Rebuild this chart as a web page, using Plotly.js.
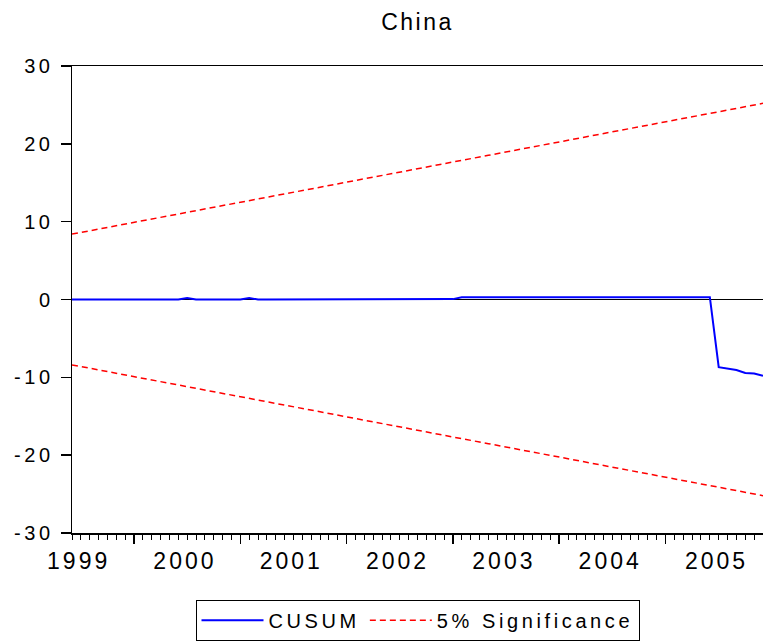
<!DOCTYPE html>
<html>
<head>
<meta charset="utf-8">
<script src="https://cdn.plot.ly/plotly-3.0.1.min.js"></script>
<style>
html,body{margin:0;padding:0;background:#fff;}
#chart{width:763px;height:643px;}
.xtick text{letter-spacing:3px;}
.ytick text{letter-spacing:3.5px;}
.gtitle{letter-spacing:2.5px;}
.legendtext{letter-spacing:3.6px;}
</style>
</head>
<body>
<div id="chart"></div>
<script>
// Monthly observations 1999M01 .. 2005M07 (79 points)
const years = ['1999','2000','2001','2002','2003','2004','2005'];

const cusum = [
  0,0,0,0,0,0,0,0,0,0,0,0,0,0.2,0,0,0,0,0,0,
  0.2,0,0,0,0,0,0,0,0,0,0,0,0,0,0,0,0,0,0,0,
  0,0,0,0.05,0.3,0.3,0.3,0.3,0.3,0.3,0.3,0.3,0.3,0.3,0.3,0.3,0.3,0.3,0.3,0.3,
  0.3,0.3,0.3,0.3,0.3,0.3,0.3,0.3,0.3,0.3,0.3,0.3,0.3,-8.7,-8.9,-9.05,-9.45,-9.5,-9.8
];

const upper5 = [
  8.40,8.62,8.83,9.05,9.26,9.48,9.69,9.91,10.12,10.34,
  10.55,10.77,10.98,11.20,11.42,11.63,11.85,12.06,12.28,12.49,
  12.71,12.92,13.14,13.35,13.57,13.78,14.00,14.22,14.43,14.65,
  14.86,15.08,15.29,15.51,15.72,15.94,16.15,16.37,16.58,16.80,
  17.02,17.23,17.45,17.66,17.88,18.09,18.31,18.52,18.74,18.95,
  19.17,19.38,19.60,19.82,20.03,20.25,20.46,20.68,20.89,21.11,
  21.32,21.54,21.75,21.97,22.18,22.40,22.62,22.83,23.05,23.26,
  23.48,23.69,23.91,24.12,24.34,24.55,24.77,24.98,25.20
];

const lower5 = [
  -8.40,-8.62,-8.83,-9.05,-9.26,-9.48,-9.69,-9.91,-10.12,-10.34,
  -10.55,-10.77,-10.98,-11.20,-11.42,-11.63,-11.85,-12.06,-12.28,-12.49,
  -12.71,-12.92,-13.14,-13.35,-13.57,-13.78,-14.00,-14.22,-14.43,-14.65,
  -14.86,-15.08,-15.29,-15.51,-15.72,-15.94,-16.15,-16.37,-16.58,-16.80,
  -17.02,-17.23,-17.45,-17.66,-17.88,-18.09,-18.31,-18.52,-18.74,-18.95,
  -19.17,-19.38,-19.60,-19.82,-20.03,-20.25,-20.46,-20.68,-20.89,-21.11,
  -21.32,-21.54,-21.75,-21.97,-22.18,-22.40,-22.62,-22.83,-23.05,-23.26,
  -23.48,-23.69,-23.91,-24.12,-24.34,-24.55,-24.77,-24.98,-25.20
];

const yTicks = [-30,-20,-10,0,10,20,30];
const yTickText = ['-30','-20','-10','0','10','20','30'];

const x = cusum.map((_, i) => i);
const nObs = cusum.length - 1;
const labelOffset = 0.75;   // year labels sit just after the first month
const yearIdx = years.map((_, j) => j * 12 + labelOffset);
const majorIdx = years.map((_, j) => j * 12 + 7).filter(v => v <= nObs);

const FONT = 'Liberation Sans, Arial, sans-serif';

const traces = [
  {x: x, y: upper5, name: '5% Significance', type: 'scatter', mode: 'lines', legendrank: 2,
   line: {color: '#FF0000', width: 1.5, dash: '6px,4px'}, xaxis: 'x', yaxis: 'y'},
  {x: x, y: lower5, name: '5% Significance', type: 'scatter', mode: 'lines', showlegend: false,
   line: {color: '#FF0000', width: 1.5, dash: '6px,4px'}, xaxis: 'x2', yaxis: 'y'},
  {x: x, y: cusum, name: 'CUSUM', type: 'scatter', mode: 'lines', legendrank: 1,
   line: {color: '#0000FF', width: 2}, xaxis: 'x', yaxis: 'y'}
];

const layout = {
  width: 763, height: 643,
  margin: {l: 72, r: 0, t: 66, b: 110},
  paper_bgcolor: '#fff', plot_bgcolor: '#fff',
  font: {family: FONT, color: '#000', size: 20},
  title: {text: 'China', font: {family: FONT, size: 23, color: '#000'},
          x: 0.5, xref: 'paper', y: 1 - 22/643, yref: 'container', yanchor: 'middle'},
  showlegend: true,
  legend: {orientation: 'h', x: 0.5, xanchor: 'center', y: -0.143, yanchor: 'top',
           bordercolor: '#000', borderwidth: 1, bgcolor: '#fff', traceorder: 'normal',
           itemwidth: 62,
           font: {family: FONT, size: 20, color: '#000'}},
  xaxis: {
    range: [0, nObs], showgrid: false, zeroline: false,
    showline: true, linecolor: '#000', linewidth: 1.5, mirror: true,
    tickmode: 'array', tickvals: yearIdx, ticktext: years,
    ticks: '', ticklabelstandoff: 7,
    tickfont: {family: FONT, size: 23, color: '#000'},
    minor: {ticks: 'outside', ticklen: 5, tickcolor: '#000', tickwidth: 1, dtick: 1, tick0: 0, showgrid: false}
  },
  xaxis2: {
    overlaying: 'x', anchor: 'y', side: 'bottom', range: [0, nObs],
    showgrid: false, zeroline: false, showline: false,
    tickmode: 'array', tickvals: majorIdx, ticks: 'outside', ticklen: 10,
    tickcolor: '#000', tickwidth: 1.5, showticklabels: false
  },
  yaxis: {
    range: [-30, 30], showgrid: false,
    zeroline: true, zerolinecolor: '#000', zerolinewidth: 1.2,
    showline: true, linecolor: '#000', linewidth: 1.5,
    tickmode: 'array', tickvals: yTicks, ticktext: yTickText, ticks: 'outside', ticklen: 10,
    tickcolor: '#000', tickwidth: 1.5, ticklabelstandoff: 3,
    tickfont: {family: FONT, size: 20, color: '#000'}
  }
};

Plotly.newPlot('chart', traces, layout, {displayModeBar: false, staticPlot: true});
</script>
</body>
</html>
